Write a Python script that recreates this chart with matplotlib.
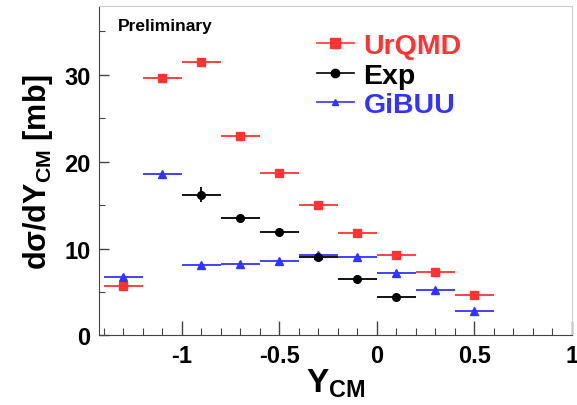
import matplotlib
matplotlib.use("Agg")
import matplotlib.pyplot as plt
from matplotlib.lines import Line2D
from matplotlib.ticker import MultipleLocator

plt.rcParams['font.family'] = ['Liberation Sans', 'DejaVu Sans']
plt.rcParams['font.weight'] = 'bold'
plt.rcParams['mathtext.fontset'] = 'custom'
plt.rcParams['mathtext.rm'] = 'Liberation Sans:bold'
plt.rcParams['mathtext.bf'] = 'Liberation Sans:bold'
plt.rcParams['mathtext.it'] = 'Liberation Sans:bold'

# Data
bin_half_width = 0.1
urqmd_x = [-1.3, -1.1, -0.9, -0.7, -0.5, -0.3, -0.1, 0.1, 0.3, 0.5]
urqmd_y = [5.7, 29.6, 31.5, 23.0, 18.7, 15.0, 11.8, 9.3, 7.3, 4.6]
exp_x = [-0.9, -0.7, -0.5, -0.3, -0.1, 0.1]
exp_y = [16.2, 13.5, 11.9, 9.0, 6.5, 4.4]
exp_yerr = [0.85, 0.2, 0.2, 0.2, 0.2, 0.2]
gibuu_x = [-1.3, -1.1, -0.9, -0.7, -0.5, -0.3, -0.1, 0.1, 0.3, 0.5]
gibuu_y = [6.7, 18.6, 8.1, 8.2, 8.6, 9.25, 9.05, 7.2, 5.2, 2.8]

red = '#ff3333'
black = '#000000'
blue = '#3333ff'

fig = plt.figure(figsize=(5.77, 4.06), dpi=100)
ax = fig.add_axes([0.1716, 0.1712, 0.8197, 0.8116])

ax.errorbar(gibuu_x, gibuu_y, xerr=bin_half_width, fmt='^', color=blue,
            ms=6, elinewidth=1.3, capsize=0, zorder=3)
ax.errorbar(exp_x, exp_y, xerr=bin_half_width, yerr=exp_yerr, fmt='o', color=black,
            ms=5.5, elinewidth=1.3, capsize=0, zorder=4)
ax.errorbar(urqmd_x, urqmd_y, xerr=bin_half_width, fmt='s', color=red,
            ms=6, elinewidth=1.3, capsize=0, zorder=5)

ax.set_xlim(-1.425, 1.0)
ax.set_ylim(0, 37.9)
ax.xaxis.set_major_locator(MultipleLocator(0.5))
ax.xaxis.set_minor_locator(MultipleLocator(0.1))
ax.yaxis.set_major_locator(MultipleLocator(10))
ax.yaxis.set_minor_locator(MultipleLocator(5))
ax.set_xticks([-1, -0.5, 0, 0.5, 1])
ax.set_xticklabels(['-1', '-0.5', '0', '0.5', '1'])
ax.tick_params(which='both', direction='in', top=False, right=False,
               labelsize=17, pad=6, color='#444444')
ax.tick_params(axis='x', which='major', length=10, width=1)
ax.tick_params(axis='x', which='minor', length=5, width=0.8)
ax.tick_params(axis='y', which='major', length=7, width=1)
ax.tick_params(axis='y', which='minor', length=4, width=0.8)
for lab in ax.get_xticklabels() + ax.get_yticklabels():
    lab.set_fontweight('bold')

ax.spines['left'].set_color('#444444')
ax.spines['bottom'].set_color('#444444')
ax.spines['top'].set_color('#cccccc')
ax.spines['right'].set_color('#cccccc')

ax.set_xlabel(r'Y$_{\mathrm{CM}}$', fontsize=24, fontweight='bold', labelpad=0)
ax.set_ylabel(r'd$\sigma$/dY$_{\mathrm{CM}}$ [mb]', fontsize=22, fontweight='bold', labelpad=7)

ax.text(0.04, 0.94, 'Preliminary', transform=ax.transAxes, fontsize=12.5,
        fontweight='bold', va='center', ha='left')

handles = [
    Line2D([], [], color=red, marker='s', ms=7, lw=1.2),
    Line2D([], [], color=black, marker='o', ms=6, lw=1.2),
    Line2D([], [], color=blue, marker='^', ms=5, lw=1.2),
]
leg = ax.legend(handles, ['UrQMD', 'Exp', 'GiBUU'], loc='upper left',
                bbox_to_anchor=(0.418, 0.978), frameon=False,
                prop={'size': 20.5, 'weight': 'bold'}, handlelength=1.3,
                handletextpad=0.35, labelspacing=0.12, borderpad=0.2)
for t, c in zip(leg.get_texts(), [red, black, blue]):
    t.set_color(c)

fig.savefig('out.png', dpi=100)
